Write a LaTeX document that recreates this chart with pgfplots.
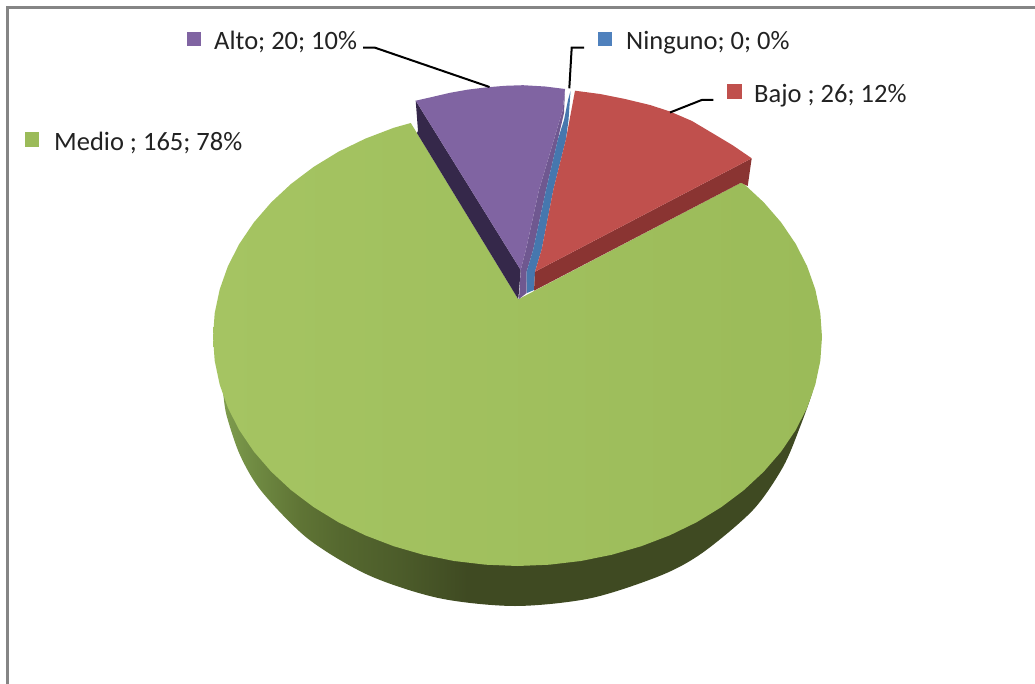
\documentclass[border=0pt]{standalone}
\usepackage{pgfplots}
\pgfplotsset{compat=1.18}
\usepackage{fontspec}
\setmainfont{Carlito}
\definecolor{gs1}{HTML}{7F9D4E}
\definecolor{gs2}{HTML}{6F8A42}
\definecolor{gs3}{HTML}{5F7435}
\definecolor{gs4}{HTML}{55682F}
\definecolor{gs5}{HTML}{4C5C2A}
\definecolor{gs6}{HTML}{3F4A22}
\definecolor{cgreen}{HTML}{9BBB59}
\definecolor{cgreenl}{HTML}{A5C462}
\definecolor{cpurple}{HTML}{8064A2}
\definecolor{cpurpled}{HTML}{35284A}
\definecolor{cpurplem}{HTML}{6F5890}
\definecolor{cblue}{HTML}{4677AE}
\definecolor{cbluek}{HTML}{4F81BD}
\definecolor{cred}{HTML}{C0504D}
\definecolor{credd}{HTML}{8A3432}
\definecolor{frame}{HTML}{858585}
\definecolor{txt}{HTML}{222222}
\tikzset{lab/.style={anchor=base west, inner sep=0pt, text=txt, font=\fontsize{26.5}{30}\selectfont}}
\pgfdeclarehorizontalshading{greenside}{100bp}{color(0bp)=(gs1); color(25bp)=(gs1); color(27.8bp)=(gs2); color(31.6bp)=(gs3); color(35bp)=(gs4); color(40bp)=(gs5); color(45.7bp)=(gs6); color(100bp)=(gs6)}
\begin{document}
\begin{tikzpicture}
\begin{axis}[
  at={(0pt,0pt)}, anchor=south west,
  scale only axis, width=1035pt, height=684pt,
  xmin=0, xmax=1035, ymin=0, ymax=684, y dir=reverse,
  hide axis, clip=false,
  every axis plot/.append style={forget plot},
]
% frame
\addplot[draw=frame, line width=2.8pt] coordinates {(7.5,684) (7.5,7.5) (1035,7.5)};
% Medio: side
\addplot[smooth, draw=none, shading=greenside] coordinates {
 (222,380) (223.6,397) (227,417) (240.1,455.3) (261.7,491.5) (308.2,538.9) (368.8,575.3) (439.3,598.2)
 (515,606) (590.7,598.2) (661.2,575.3) (703,552.4) (753,510) (783,467) (800,427) (813,390) (815,370)};
% Medio: top face
\addplot[draw=none, left color=cgreenl, right color=cgreen] coordinates {
 (518.3,299.3) (741,182.7) (743.8,183.8) (763.8,202.4) (781.2,222.5) (795.7,243.9) (807.1,266.2) (815.3,289.4) (820.3,313.1)
 (822,337) (820.3,360.9) (815.3,384.6) (807.1,407.8) (795.7,430.1) (781.2,451.5) (763.8,471.6) (743.8,490.2) (721.2,507.2)
 (696.5,522.3) (669.8,535.3) (641.3,546.2) (611.6,554.8) (580.8,561) (549.3,564.7) (517.5,566)
 (485.7,564.7) (454.2,561) (423.4,554.8) (393.7,546.2) (365.2,535.3) (338.5,522.3) (313.8,507.2) (291.2,490.2)
 (271.2,471.6) (253.8,451.5) (239.3,430.1) (227.9,407.8) (219.7,384.6) (214.7,360.9) (213,337)
 (214.7,313.1) (219.7,289.4) (227.9,266.2) (239.3,243.9) (253.8,222.5) (271.2,202.4) (291.2,183.8) (313.8,166.8)
 (338.5,151.7) (365.2,138.7) (393.7,127.8) (410.8,123)};
% Alto: side faces
\addplot[fill=cpurpled, draw=none] coordinates {(415.7,100.7) (520.7,270) (518.3,299.3) (416.9,133) (418,131)};
\addplot[fill=cpurplem, draw=none] coordinates {(565,89.3) (564,113) (558,139) (546,190) (533.3,249.3) (526.5,272) (526.7,293) (519,299) (520.7,270) (526,249.3) (539,190) (562.7,110)};
% Ninguno
\addplot[fill=cblue, draw=none] coordinates {(570.5,91) (568.5,120) (566,139) (553.3,190) (541.7,249.3) (535,271.7) (534,290) (527,293) (526.5,272) (533.3,249.3) (546,190) (558,139) (564,120) (568,100)};
% Bajo: side and top
\addplot[fill=credd, draw=none] coordinates {(751.7,158.3) (747.7,186) (741,182.7) (534,290.7) (535,271.7)};
\addplot[fill=cred, draw=none] coordinates {(575,90.7) (600,94) (625,99) (650,105) (670,111.5) (692,121) (713,133.5) (733,145.5) (751.7,158.3) (535,271.7) (541.7,249.3) (553.3,190) (566,139)};
% Alto: top
\addplot[fill=cpurple, draw=none] coordinates {(415.7,100.7) (432,97) (450,92.8) (468,89.6) (487,87.3) (505,85.8) (523,85.2) (545,86.5) (565,89) (562.7,110) (539,190) (526,249.3) (520.7,270)};
% leaders
\addplot[black, line width=2pt] coordinates {(363,47.7) (375,47.7) (489.5,87)};
\addplot[black, line width=2pt] coordinates {(584,47.7) (571.7,47.7) (569.3,88.3)};
\addplot[black, line width=2pt] coordinates {(713.3,100) (701.7,100) (670,112.5)};
% legend keys
\addplot[fill=cpurple, draw=none] coordinates {(186.7,31.7) (201,31.7) (201,46) (186.7,46)};
\addplot[fill=cgreen, draw=none] coordinates {(25,131.7) (39.3,131.7) (39.3,146.7) (25,146.7)};
\addplot[fill=cbluek, draw=none] coordinates {(598.3,31.7) (612.3,31.7) (612.3,45.7) (598.3,45.7)};
\addplot[fill=cred, draw=none] coordinates {(727.3,84.3) (741.7,84.3) (741.7,99) (727.3,99)};
\node[lab] at (axis cs:214,49.5) {Alto; 20; 10\%};
\node[lab] at (axis cs:54,150.5) {Medio ; 165; 78\%};
\node[lab] at (axis cs:626,49.5) {Ninguno; 0; 0\%};
\node[lab] at (axis cs:754,103) {Bajo ; 26; 12\%};
\end{axis}
\pgfresetboundingbox
\path[use as bounding box] (0pt,0pt) rectangle (1035pt,684pt);
\end{tikzpicture}
\end{document}
